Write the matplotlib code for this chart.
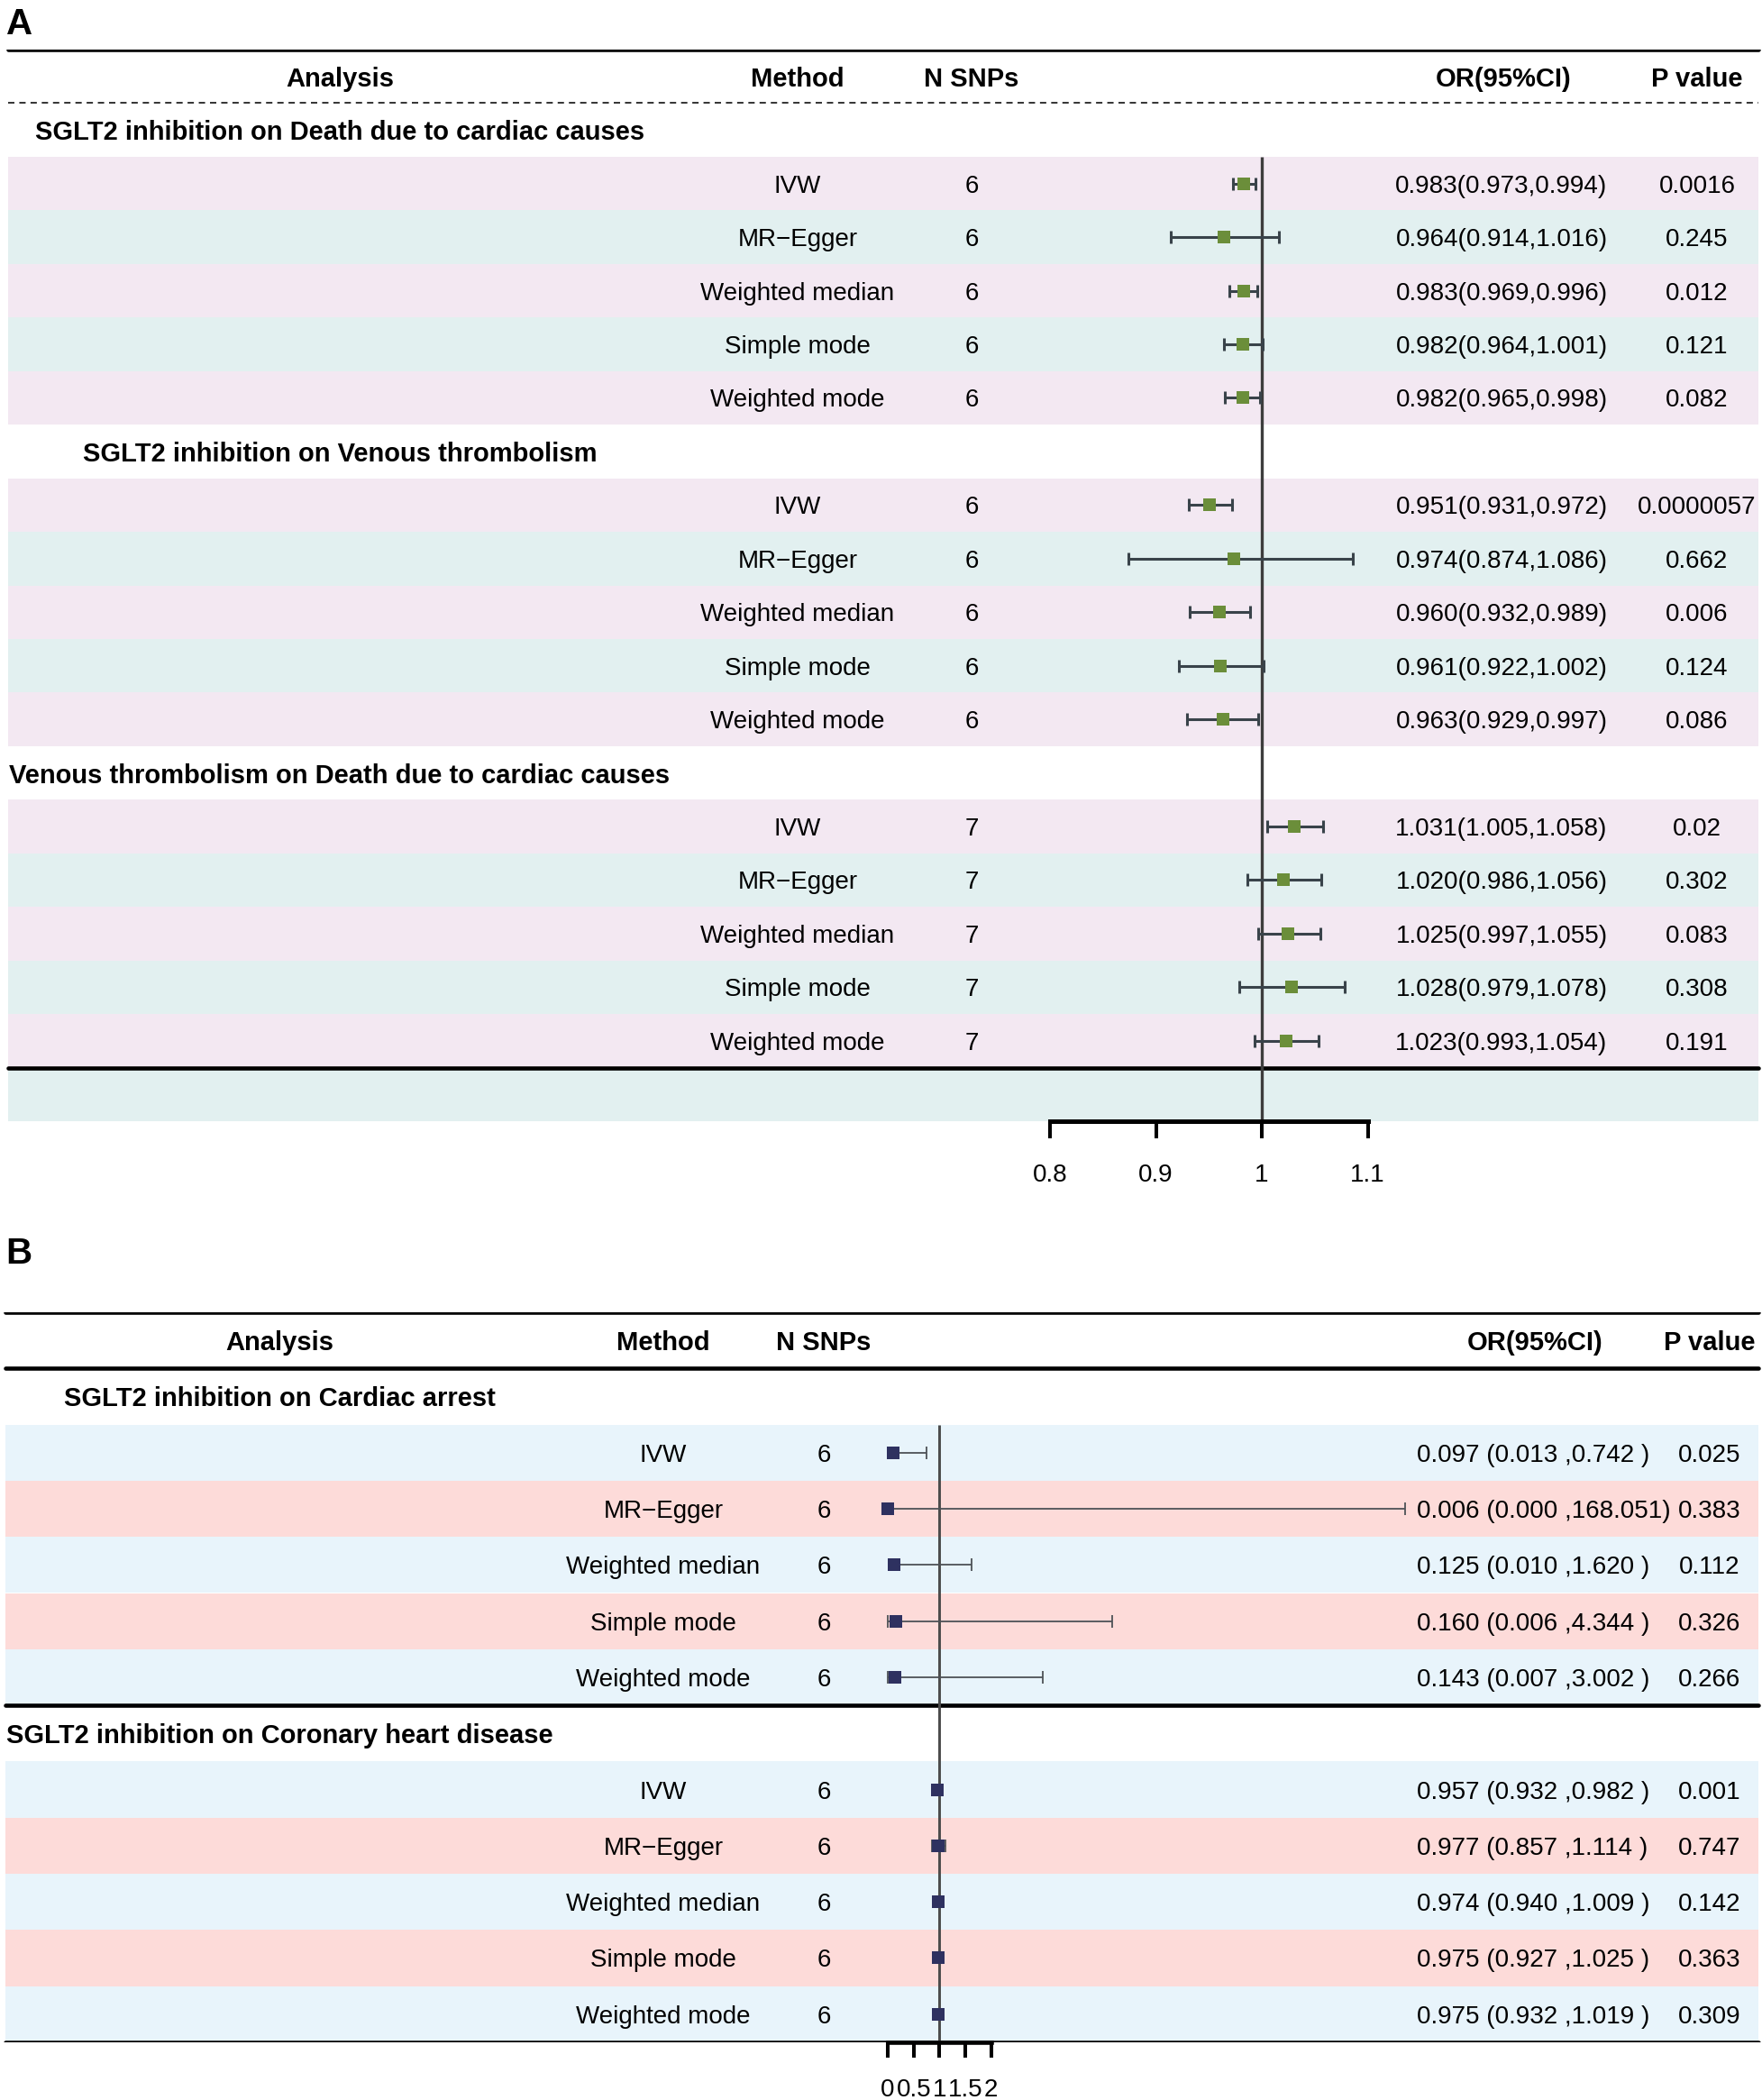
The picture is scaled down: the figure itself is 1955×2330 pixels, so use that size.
import matplotlib
matplotlib.use("Agg")
import matplotlib.pyplot as plt
import numpy as np

plt.rcParams['font.family'] = ['Liberation Sans', 'DejaVu Sans']

W, H = 1955, 2330

methods = ["IVW", "MR\u2212Egger", "Weighted median", "Simple mode", "Weighted mode"]
headers = ["Analysis", "Method", "N SNPs", "OR(95%CI)", "P value"]

# ---- panel A data
a_groups = ["SGLT2 inhibition on Death due to cardiac causes",
            "SGLT2 inhibition on Venous thrombolism",
            "Venous thrombolism on Death due to cardiac causes"]
a_nsnp = [6, 6, 6, 6, 6,
          6, 6, 6, 6, 6,
          7, 7, 7, 7, 7]
a_or = [0.983, 0.964, 0.983, 0.982, 0.982,
        0.951, 0.974, 0.960, 0.961, 0.963,
        1.031, 1.020, 1.025, 1.028, 1.023]
a_lo = [0.973, 0.914, 0.969, 0.964, 0.965,
        0.931, 0.874, 0.932, 0.922, 0.929,
        1.005, 0.986, 0.997, 0.979, 0.993]
a_hi = [0.994, 1.016, 0.996, 1.001, 0.998,
        0.972, 1.086, 0.989, 1.002, 0.997,
        1.058, 1.056, 1.055, 1.078, 1.054]
a_p = ["0.0016", "0.245", "0.012", "0.121", "0.082",
       "0.0000057", "0.662", "0.006", "0.124", "0.086",
       "0.02", "0.302", "0.083", "0.308", "0.191"]
a_ticks = [0.8, 0.9, 1.0, 1.1]
a_ticklabels = ["0.8", "0.9", "1", "1.1"]

# ---- panel B data
b_groups = ["SGLT2 inhibition on Cardiac arrest",
            "SGLT2 inhibition on Coronary heart disease"]
b_nsnp = [6, 6, 6, 6, 6,
          6, 6, 6, 6, 6]
b_or = [0.097, 0.006, 0.125, 0.160, 0.143,
        0.957, 0.977, 0.974, 0.975, 0.975]
b_lo = [0.013, 0.000, 0.010, 0.006, 0.007,
        0.932, 0.857, 0.940, 0.927, 0.932]
b_hi = [0.742, 168.051, 1.620, 4.344, 3.002,
        0.982, 1.114, 1.009, 1.025, 1.019]
b_p = ["0.025", "0.383", "0.112", "0.326", "0.266",
       "0.001", "0.747", "0.142", "0.363", "0.309"]
b_ticks = [0, 0.5, 1, 1.5, 2]
b_ticklabels = ["0", "0.5", "1", "1.5", "2"]

fig = plt.figure(figsize=(W / 100, H / 100), dpi=100)


def px_axes(x0, y0, x1, y1):
    return fig.add_axes([x0 / W, 1 - y1 / H, (x1 - x0) / W, (y1 - y0) / H])


def draw_panel(top, row_h, n_rows, x_left, x_right, groups, nsnp, est, lo, hi, pvals,
               ortxt, col_x, title_x, or_x, or_ha, band_cols, dashed_header, mid_lines,
               extra_band, forest_px, xlim, ticks, ticklabels, sq_col, ci_col, ci_lw,
               capsize, ms, ref_col, ref_lw, ref_end, spine_lw, tick_len, tick_pad):
    ax = px_axes(0, top, W, top + n_rows * row_h)
    ax.set_xlim(0, W)
    ax.set_ylim(n_rows, 0)
    ax.axis('off')

    # rows
    data_rows = []
    for g in range(len(groups)):
        tr = 1 + g * 6
        ax.text(title_x, tr + 0.5, groups[g], ha='center', va='center_baseline',
                fontsize=21, fontweight='bold')
        for j in range(5):
            data_rows.append(tr + 1 + j)

    for k, r in enumerate(data_rows):
        j = k % 5
        ax.add_patch(plt.Rectangle((x_left, r), x_right - x_left, 1,
                                   color=band_cols[j % 2], lw=0, zorder=0))
        ax.text(col_x[1], r + 0.5, methods[j], ha='center', va='center_baseline', fontsize=20)
        ax.text(col_x[2], r + 0.5, str(nsnp[k]), ha='center', va='center_baseline', fontsize=20)
        ax.text(or_x, r + 0.5, ortxt[k], ha=or_ha, va='center_baseline', fontsize=20)
        ax.text(col_x[4], r + 0.5, pvals[k], ha='center', va='center_baseline', fontsize=20)
    if extra_band:
        ax.add_patch(plt.Rectangle((x_left, n_rows - 1), x_right - x_left, 1,
                                   color=band_cols[1], lw=0, zorder=0))

    for c, h in zip(col_x, headers):
        ax.text(c, 0.5, h, ha='center', va='center_baseline', fontsize=21, fontweight='bold')

    ax.hlines(0, x_left, x_right, color='black', lw=3.3, capstyle='round')
    if dashed_header:
        ax.hlines(1, x_left, x_right, color='#333333', lw=1.4, linestyles=(0, (3.6, 2.8)))
    else:
        ax.hlines(1, x_left, x_right, color='black', lw=3.3, capstyle='round')
    for y in mid_lines:
        ax.hlines(y, x_left, x_right, color='black', lw=3.3, capstyle='round')

    # forest part
    fx = px_axes(forest_px[0], top, forest_px[1], top + n_rows * row_h)
    fx.set_facecolor('none')
    fx.set_xlim(*xlim)
    fx.set_ylim(n_rows, 0)
    yr = np.array(data_rows) + 0.5
    est = np.array(est)
    lo_c = np.clip(lo, xlim[0], xlim[1])
    hi_c = np.clip(hi, xlim[0], xlim[1])
    fx.vlines(1, 2, ref_end, color=ref_col, lw=ref_lw, zorder=2)
    fx.errorbar(est, yr, xerr=[est - lo_c, hi_c - est], fmt='none', ecolor=ci_col,
                elinewidth=ci_lw, capsize=capsize, capthick=ci_lw, zorder=3, clip_on=False)
    fx.plot(est, yr, 's', ms=ms, color=sq_col, mew=0, zorder=4, clip_on=False)
    for s in ['top', 'left', 'right']:
        fx.spines[s].set_visible(False)
    fx.spines['bottom'].set_bounds(ticks[0], ticks[-1])
    fx.spines['bottom'].set_linewidth(spine_lw)
    fx.set_yticks([])
    fx.set_xticks(ticks, labels=ticklabels)
    fx.tick_params(axis='x', length=tick_len, width=2.9, pad=tick_pad, labelsize=20)
    return ax


a_txt = [f"{m:.3f}({l:.3f},{u:.3f})" for m, l, u in zip(a_or, a_lo, a_hi)]
b_txt = [f"{m:.3f} ({l:.3f} ,{u:<6.3f})" for m, l, u in zip(b_or, b_lo, b_hi)]

draw_panel(top=55, row_h=59.45, n_rows=20, x_left=9, x_right=1951,
           groups=a_groups, nsnp=a_nsnp, est=a_or, lo=a_lo, hi=a_hi, pvals=a_p,
           ortxt=a_txt, col_x=[377, 885, 1078, 1668, 1883], title_x=377,
           or_x=1666, or_ha='center', band_cols=['#f3e8f2', '#e2f0f0'],
           dashed_header=True, mid_lines=[19], extra_band=True,
           forest_px=(1165, 1517.5), xlim=(0.8, 1.1), ticks=a_ticks,
           ticklabels=a_ticklabels, sq_col='#6b8e3a', ci_col='#39434a', ci_lw=2.2,
           capsize=5, ms=9.4, ref_col='#3d3d3d', ref_lw=2.4, ref_end=20,
           spine_lw=3.6, tick_len=13.7, tick_pad=20)

draw_panel(top=1456, row_h=62.3, n_rows=13, x_left=6, x_right=1951,
           groups=b_groups, nsnp=b_nsnp, est=b_or, lo=b_lo, hi=b_hi, pvals=b_p,
           ortxt=b_txt, col_x=[310, 736, 914, 1703, 1897], title_x=310,
           or_x=1572, or_ha='left', band_cols=['#e8f4fb', '#fddbd9'],
           dashed_header=False, mid_lines=[7, 13], extra_band=False,
           forest_px=(985, 1559), xlim=(0, 10), ticks=b_ticks,
           ticklabels=b_ticklabels, sq_col='#2e3160', ci_col='#4d5257', ci_lw=1.3,
           capsize=4.7, ms=10, ref_col='#4a4a4a', ref_lw=2.1, ref_end=13,
           spine_lw=3.3, tick_len=12.2, tick_pad=17)

fig.text(7 / W, 1 - 38 / H, "A", fontsize=29, fontweight='bold', va='baseline')
fig.text(6 / W, 1 - 1402 / H, "B", fontsize=29, fontweight='bold', va='baseline')

fig.savefig("out.png", dpi=100)
